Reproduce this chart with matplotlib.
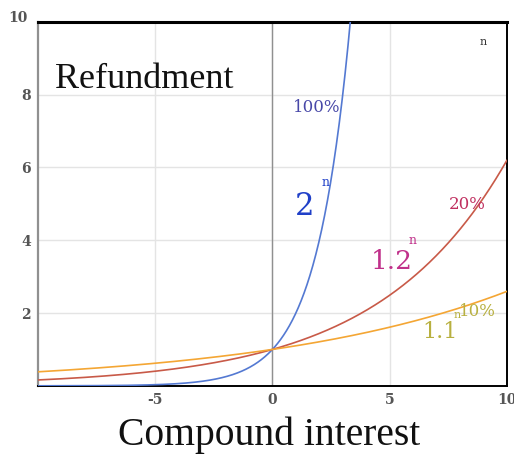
import numpy as np
import matplotlib.pyplot as plt
import matplotlib.transforms as mtransforms

plt.rcParams['axes.unicode_minus'] = False

# growth bases and their rates
bases = [2.0, 1.2, 1.1]
rates = ['100%', '20%', '10%']
curve_colors = ['#5479d2', '#c85a48', '#f4a634']
n = np.linspace(-10, 10, 801)

fig = plt.figure(figsize=(5.14, 4.55), dpi=100)
ax = fig.add_axes([0.074, 0.152, 0.912, 0.80])

for b, c in zip(bases, curve_colors):
    ax.plot(n, b ** n, color=c, lw=1.2, zorder=3)

ax.set_xlim(-10, 10)
ax.set_ylim(0, 10)
ax.set_xticks([-5, 0, 5, 10])
ax.set_yticks([2, 4, 6, 8, 10])
ax.grid(color='#e4e4e4', lw=1)
ax.axvline(0, color='#909090', lw=1, zorder=2)

for s in ['top', 'right', 'bottom']:
    ax.spines[s].set_color('black')
ax.spines['top'].set_linewidth(2.2)
ax.spines['right'].set_linewidth(1.4)
ax.spines['bottom'].set_linewidth(1.4)
ax.spines['left'].set_color('#909090')
ax.spines['left'].set_linewidth(1.6)
ax.tick_params(length=0, labelsize=10, labelcolor='#555555', pad=5)
for lab in ax.get_xticklabels() + ax.get_yticklabels():
    lab.set_family('DejaVu Serif')
    lab.set_fontweight('bold')
# the top "10" sits a little above the frame
top = ax.get_yticklabels()[-1]
top.set_transform(top.get_transform() +
                  mtransforms.ScaledTranslation(-0.03, 0.05, fig.dpi_scale_trans))

big = 'Liberation Serif'
serif = 'DejaVu Serif'
ax.text(-9.27, 8.19, 'Refundment', fontsize=26, family=big, color='#111111',
        va='baseline')
fig.text(0.523, 0.022, 'Compound interest', fontsize=28.5, family=big,
         ha='center', va='baseline', color='#111111')
ax.text(8.98, 9.45, 'n', fontsize=8, family=serif, color='#333333',
        ha='center', va='center')

# labels for 2^n
ax.text(1.9, 7.64, rates[0], fontsize=12, family=serif, color='#4848a8',
        ha='center', va='center')
ax.text(1.39, 4.92, '2', fontsize=22, family=serif, color='#2040c8',
        ha='center', va='center')
ax.text(2.28, 5.58, 'n', fontsize=9, family=serif, color='#2040c8',
        ha='center', va='center')

# labels for 1.2^n
ax.text(8.3, 4.97, rates[1], fontsize=12, family=serif, color='#c03060',
        ha='center', va='center')
ax.text(5.1, 3.41, '1.2', fontsize=19, family=serif, color='#c0308a',
        ha='center', va='center')
ax.text(6.0, 4.0, 'n', fontsize=9, family=serif, color='#c0308a',
        ha='center', va='center')

# labels for 1.1^n
ax.text(8.76, 2.03, rates[2], fontsize=12, family=serif, color='#b8b040',
        ha='center', va='center')
ax.text(7.14, 1.48, '1.1', fontsize=16, family=serif, color='#b8b040',
        ha='center', va='center')
ax.text(7.9, 1.95, 'n', fontsize=8, family=serif, color='#b8b040',
        ha='center', va='center')

fig.savefig('out.png', dpi=100)
